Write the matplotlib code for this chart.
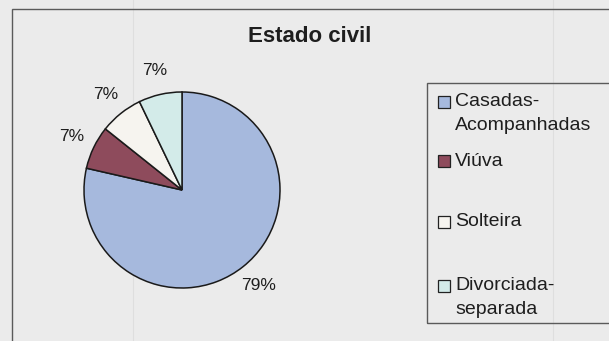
import matplotlib.pyplot as plt
from matplotlib.patches import Rectangle
from matplotlib.lines import Line2D

# Estado civil das entrevistadas (contagens)
categorias = ["Casadas-\nAcompanhadas", "Viúva", "Solteira", "Divorciada-\nseparada"]
contagens = [11, 1, 1, 1]
cores = ["#a6b9dd", "#8e4b5c", "#f6f4ef", "#d3ebe9"]

TITULO = "Estado civil"
FUNDO = "#ebebeb"
TEXTO = "#1e1e1e"

W, H = 609, 341


def fx(px):
    """Converte pixel horizontal para coordenada da figura."""
    return px / W


def fy(py):
    """Converte pixel vertical (a partir do topo) para coordenada da figura."""
    return 1 - py / H


plt.rcParams["font.family"] = ["Liberation Sans", "DejaVu Sans"]

fig = plt.figure(figsize=(W / 100, H / 100), dpi=100, facecolor=FUNDO)

# linhas de grade da planilha ao fundo
for gx in (133, 553):
    fig.add_artist(Line2D([fx(gx), fx(gx)], [0, 1], color="#dedede", lw=0.8,
                          zorder=-5))

# moldura da área do gráfico
fig.add_artist(Rectangle((fx(12), -0.1), 1.2, fy(9) + 0.1, fill=False,
                         edgecolor="#5a5a5a", lw=1.0, zorder=-4))

# pizza: raio de 98 px, centro em (182, 190)
raio = 98
cx, cy = 182, 190
lado = 3 * raio
ax = fig.add_axes([fx(cx - lado / 2), fy(cy + lado / 2), lado / W, lado / H])
ax.set_facecolor("none")
wedges, _, autotexts = ax.pie(
    contagens,
    colors=cores,
    startangle=90,
    counterclock=False,
    autopct="%1.0f%%",
    pctdistance=1.25,
    wedgeprops={"edgecolor": "#1a1a1a", "linewidth": 1.1},
    textprops={"fontsize": 12.5, "color": TEXTO},
)
ax.set_xlim(-1.5, 1.5)
ax.set_ylim(-1.5, 1.5)
ax.set_aspect("equal")
ax.axis("off")

fig.text(fx(310), fy(36), TITULO, ha="center", va="center",
         fontsize=16, fontweight="bold", color=TEXTO)

# legenda com espaçamento livre entre as entradas
fig.add_artist(Rectangle((fx(427), fy(323)), 1.0, fy(83) - fy(323), fill=False,
                         edgecolor="#5a5a5a", lw=1.0))
legenda_y = [102, 161, 222, 286]
for rotulo, cor, y0 in zip(categorias, cores, legenda_y):
    fig.add_artist(Rectangle((fx(438), fy(y0 + 6)), fx(12), fy(y0 - 6) - fy(y0 + 6),
                             facecolor=cor, edgecolor="#222222", lw=0.9))
    for i, linha in enumerate(rotulo.split("\n")):
        fig.text(fx(455), fy(y0 + i * 23), linha, ha="left", va="center",
                 fontsize=14, color=TEXTO)

fig.savefig("out.png", dpi=100, facecolor=FUNDO)
